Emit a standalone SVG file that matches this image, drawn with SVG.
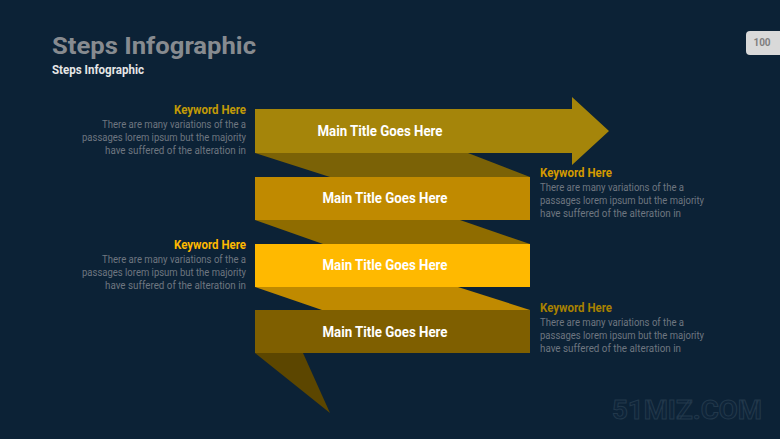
<svg xmlns="http://www.w3.org/2000/svg" width="780" height="439" viewBox="0 0 780 439">
<style>
.t{font-family:Roboto,"Liberation Sans",sans-serif;font-weight:bold}
.band{font-family:Roboto,"Liberation Sans",sans-serif;font-weight:bold;font-size:14px;fill:#ffffff;text-anchor:middle}
.kw{font-family:Roboto,"Liberation Sans",sans-serif;font-weight:bold;font-size:12px}
.body{font-family:Roboto,"Liberation Sans",sans-serif;font-size:10px;fill:#6e7680}
.r{text-anchor:end}
</style>
<rect width="780" height="439" fill="#0c2236"/>
<text class="t" x="52" y="54" font-size="24" fill="#878b90" textLength="204" lengthAdjust="spacingAndGlyphs">Steps Infographic</text>
<text class="t" x="52" y="74" font-size="12" fill="#e6e6e6" textLength="92" lengthAdjust="spacingAndGlyphs">Steps Infographic</text>
<g id="page">
<rect x="746" y="31" width="44" height="24" rx="4" fill="#d9d9d9"/>
<text class="t" x="762" y="46" font-size="10" fill="#7f7f7f" text-anchor="middle">100</text>
</g>
<g id="connectors">
<polygon id="fold1" points="255,153 468,153 530,177 330,177" fill="#7b6206"/>
<polygon id="fold2" points="255,220 460,220 530,244 323,244" fill="#8f6c00"/>
<polygon id="fold3" points="255,287 458,287 530,310 322,310" fill="#c08a00"/>
<polygon id="tail" points="255,353 303,353 330,413" fill="#5c4600"/>
</g>
<g id="step1">
<polygon points="255,109 572,109 572,97 609,131 572,165 572,153 255,153" fill="#a5850a"/>
<text class="band" x="380" y="136" textLength="125" lengthAdjust="spacingAndGlyphs">Main Title Goes Here</text>
</g>
<g id="step2">
<rect x="255" y="177" width="275" height="43" fill="#c08a00"/>
<text class="band" x="385" y="203" textLength="125" lengthAdjust="spacingAndGlyphs">Main Title Goes Here</text>
</g>
<g id="step3">
<rect x="255" y="244" width="275" height="43" fill="#ffb900"/>
<text class="band" x="385" y="270" textLength="125" lengthAdjust="spacingAndGlyphs">Main Title Goes Here</text>
</g>
<g id="step4">
<rect x="255" y="310" width="275" height="43" fill="#7f5f00"/>
<text class="band" x="385" y="337" textLength="125" lengthAdjust="spacingAndGlyphs">Main Title Goes Here</text>
</g>
<g id="note1">
<text class="kw r" x="246" y="114" fill="#c29a06" textLength="72" lengthAdjust="spacingAndGlyphs">Keyword Here</text>
<text class="body r" x="246" y="128" textLength="144" lengthAdjust="spacingAndGlyphs">There are many variations of the a</text>
<text class="body r" x="246" y="141" textLength="164" lengthAdjust="spacingAndGlyphs">passages lorem ipsum but the majority</text>
<text class="body r" x="246" y="154" textLength="141" lengthAdjust="spacingAndGlyphs">have suffered of the alteration in</text>
</g>
<g id="note2">
<text class="kw" x="540" y="177" fill="#d39a00" textLength="72" lengthAdjust="spacingAndGlyphs">Keyword Here</text>
<text class="body" x="540" y="191" textLength="144" lengthAdjust="spacingAndGlyphs">There are many variations of the a</text>
<text class="body" x="540" y="204" textLength="164" lengthAdjust="spacingAndGlyphs">passages lorem ipsum but the majority</text>
<text class="body" x="540" y="217" textLength="141" lengthAdjust="spacingAndGlyphs">have suffered of the alteration in</text>
</g>
<g id="note3">
<text class="kw r" x="246" y="249" fill="#ffb900" textLength="72" lengthAdjust="spacingAndGlyphs">Keyword Here</text>
<text class="body r" x="246" y="263" textLength="144" lengthAdjust="spacingAndGlyphs">There are many variations of the a</text>
<text class="body r" x="246" y="276" textLength="164" lengthAdjust="spacingAndGlyphs">passages lorem ipsum but the majority</text>
<text class="body r" x="246" y="289" textLength="141" lengthAdjust="spacingAndGlyphs">have suffered of the alteration in</text>
</g>
<g id="note4">
<text class="kw" x="540" y="312" fill="#a88100" textLength="72" lengthAdjust="spacingAndGlyphs">Keyword Here</text>
<text class="body" x="540" y="326" textLength="144" lengthAdjust="spacingAndGlyphs">There are many variations of the a</text>
<text class="body" x="540" y="339" textLength="164" lengthAdjust="spacingAndGlyphs">passages lorem ipsum but the majority</text>
<text class="body" x="540" y="352" textLength="141" lengthAdjust="spacingAndGlyphs">have suffered of the alteration in</text>
</g>
<text class="t" x="612" y="419" font-size="26" fill="#0e2439" stroke="#22384b" stroke-width="1" textLength="150" lengthAdjust="spacingAndGlyphs">51MIZ.COM</text>
</svg>
